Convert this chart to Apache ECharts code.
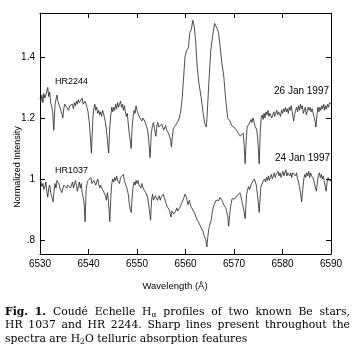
<!DOCTYPE html>
<html><head><meta charset="utf-8">
<script src="https://cdn.jsdelivr.net/npm/echarts@6/dist/echarts.min.js"></script>
<style>html,body{margin:0;padding:0;background:#fff}#c{width:354px;height:353px}</style>
</head><body><div id="c"></div>
<script>
// ---- data (wavelength Å, normalized intensity) ----
const hr2244 = [[6530.0,1.265],[6530.2,1.255],[6530.4,1.275],[6530.6,1.25],[6530.8,1.28],[6531.0,1.265],[6531.2,1.27],[6531.4,1.285],[6531.6,1.30],[6531.8,1.27],[6532.0,1.285],[6532.2,1.25],[6532.4,1.24],[6532.6,1.22],[6532.85,1.16],[6533.1,1.245],[6533.3,1.26],[6533.5,1.275],[6533.7,1.255],[6533.9,1.245],[6534.1,1.235],[6534.3,1.23],[6534.5,1.215],[6534.7,1.20],[6534.9,1.23],[6535.1,1.245],[6535.3,1.25],[6535.5,1.235],[6535.7,1.24],[6535.9,1.225],[6536.1,1.24],[6536.3,1.245],[6536.5,1.235],[6536.7,1.245],[6536.9,1.23],[6537.1,1.25],[6537.3,1.24],[6537.5,1.255],[6537.7,1.245],[6537.9,1.26],[6538.1,1.25],[6538.3,1.255],[6538.5,1.245],[6538.7,1.265],[6538.9,1.245],[6539.1,1.24],[6539.3,1.255],[6539.5,1.25],[6539.7,1.235],[6539.9,1.22],[6540.2,1.18],[6540.6,1.085],[6540.9,1.20],[6541.1,1.23],[6541.3,1.245],[6541.5,1.225],[6541.7,1.235],[6541.9,1.215],[6542.1,1.225],[6542.3,1.21],[6542.5,1.22],[6542.7,1.205],[6542.9,1.225],[6543.1,1.215],[6543.3,1.20],[6543.5,1.185],[6543.7,1.16],[6543.9,1.13],[6544.15,1.085],[6544.4,1.17],[6544.6,1.21],[6544.8,1.235],[6545.0,1.22],[6545.2,1.235],[6545.4,1.225],[6545.6,1.245],[6545.8,1.23],[6546.0,1.25],[6546.2,1.235],[6546.4,1.245],[6546.6,1.255],[6546.8,1.235],[6547.0,1.245],[6547.2,1.225],[6547.4,1.24],[6547.6,1.22],[6547.8,1.205],[6548.0,1.215],[6548.2,1.18],[6548.4,1.15],[6548.8,1.10],[6549.0,1.17],[6549.2,1.205],[6549.4,1.225],[6549.6,1.215],[6549.8,1.24],[6550.0,1.225],[6550.2,1.215],[6550.4,1.22],[6550.6,1.20],[6550.8,1.205],[6551.0,1.19],[6551.2,1.20],[6551.4,1.205],[6551.6,1.19],[6551.8,1.18],[6552.0,1.185],[6552.2,1.16],[6552.4,1.13],[6552.7,1.07],[6552.95,1.15],[6553.2,1.175],[6553.4,1.185],[6553.6,1.165],[6553.9,1.14],[6554.1,1.175],[6554.3,1.185],[6554.5,1.17],[6554.7,1.175],[6554.9,1.165],[6555.1,1.18],[6555.3,1.17],[6555.5,1.16],[6555.7,1.165],[6555.9,1.175],[6556.1,1.16],[6556.3,1.165],[6556.5,1.15],[6556.7,1.155],[6556.9,1.13],[6557.1,1.105],[6557.3,1.14],[6557.5,1.165],[6557.7,1.16],[6557.9,1.175],[6558.1,1.17],[6558.3,1.18],[6558.5,1.19],[6558.7,1.20],[6559.0,1.22],[6559.3,1.26],[6559.6,1.33],[6559.9,1.40],[6560.2,1.42],[6560.4,1.415],[6560.6,1.43],[6560.9,1.48],[6561.2,1.49],[6561.5,1.52],[6561.8,1.50],[6562.1,1.45],[6562.4,1.37],[6562.8,1.31],[6563.2,1.27],[6563.6,1.22],[6564.0,1.18],[6564.3,1.17],[6564.5,1.22],[6564.8,1.31],[6565.2,1.42],[6565.6,1.47],[6566.0,1.51],[6566.3,1.50],[6566.6,1.49],[6566.8,1.48],[6567.1,1.44],[6567.5,1.38],[6567.9,1.335],[6568.3,1.26],[6568.7,1.20],[6569.0,1.195],[6569.2,1.19],[6569.5,1.175],[6569.7,1.18],[6570.0,1.17],[6570.3,1.17],[6570.5,1.16],[6570.7,1.165],[6570.9,1.15],[6571.1,1.155],[6571.3,1.14],[6571.5,1.145],[6571.7,1.135],[6571.9,1.15],[6572.1,1.11],[6572.3,1.05],[6572.5,1.12],[6572.7,1.17],[6572.9,1.165],[6573.1,1.18],[6573.3,1.175],[6573.5,1.195],[6573.7,1.185],[6573.9,1.20],[6574.1,1.19],[6574.3,1.175],[6574.5,1.18],[6574.7,1.16],[6574.9,1.13],[6575.2,1.05],[6575.4,1.15],[6575.6,1.20],[6575.8,1.21],[6576.0,1.195],[6576.2,1.215],[6576.4,1.20],[6576.6,1.22],[6576.8,1.21],[6577.0,1.225],[6577.2,1.205],[6577.4,1.215],[6577.6,1.22],[6577.8,1.20],[6578.0,1.21],[6578.2,1.22],[6578.4,1.205],[6578.6,1.215],[6578.8,1.225],[6579.0,1.21],[6579.2,1.22],[6579.4,1.215],[6579.6,1.205],[6579.8,1.225],[6580.0,1.215],[6580.2,1.23],[6580.4,1.22],[6580.6,1.235],[6580.8,1.22],[6581.0,1.23],[6581.2,1.215],[6581.4,1.235],[6581.6,1.225],[6581.8,1.24],[6582.0,1.22],[6582.3,1.19],[6582.5,1.21],[6582.7,1.225],[6582.9,1.235],[6583.1,1.22],[6583.3,1.24],[6583.5,1.225],[6583.7,1.245],[6583.9,1.23],[6584.1,1.24],[6584.3,1.215],[6584.5,1.225],[6584.7,1.235],[6584.9,1.21],[6585.1,1.22],[6585.3,1.235],[6585.5,1.225],[6585.7,1.235],[6585.9,1.22],[6586.1,1.23],[6586.4,1.21],[6586.7,1.19],[6586.9,1.17],[6587.1,1.21],[6587.3,1.235],[6587.5,1.22],[6587.7,1.235],[6587.9,1.225],[6588.1,1.24],[6588.3,1.23],[6588.5,1.245],[6588.7,1.225],[6588.9,1.24],[6589.1,1.23],[6589.3,1.245],[6589.5,1.235],[6589.7,1.25],[6590.0,1.245]];

const hr1037 = [[6530.0,1.0],[6530.2,0.99],[6530.4,0.975],[6530.6,0.985],[6530.8,0.965],[6531.0,0.975],[6531.2,0.99],[6531.4,0.96],[6531.6,0.94],[6531.8,0.97],[6532.0,0.98],[6532.2,0.955],[6532.45,0.94],[6532.7,0.925],[6532.9,0.96],[6533.1,0.985],[6533.3,0.97],[6533.5,0.995],[6533.7,1.0],[6533.9,0.985],[6534.1,0.97],[6534.3,0.975],[6534.5,0.955],[6534.7,0.96],[6534.9,0.98],[6535.1,0.975],[6535.3,0.985],[6535.5,0.97],[6535.7,0.98],[6535.9,0.975],[6536.1,0.985],[6536.3,0.97],[6536.5,0.98],[6536.7,0.99],[6536.9,0.97],[6537.1,0.975],[6537.3,0.995],[6537.5,0.98],[6537.7,0.96],[6537.9,0.975],[6538.1,0.99],[6538.3,0.97],[6538.5,0.985],[6538.7,0.955],[6538.9,0.94],[6539.1,0.92],[6539.3,0.86],[6539.5,0.96],[6539.7,0.985],[6539.9,0.995],[6540.1,1.0],[6540.3,0.99],[6540.5,1.005],[6540.7,0.985],[6540.9,0.98],[6541.1,0.995],[6541.3,0.99],[6541.5,0.98],[6541.7,0.99],[6541.9,1.0],[6542.1,0.985],[6542.3,0.97],[6542.5,0.98],[6542.7,0.985],[6542.9,0.965],[6543.1,0.96],[6543.3,0.97],[6543.5,0.945],[6543.7,0.93],[6543.9,0.955],[6544.1,0.93],[6544.4,0.86],[6544.6,0.94],[6544.8,0.985],[6545.0,1.0],[6545.2,0.99],[6545.4,1.005],[6545.6,0.995],[6545.8,1.01],[6546.0,0.995],[6546.2,1.0],[6546.4,0.985],[6546.6,1.005],[6546.8,1.01],[6547.0,1.0],[6547.2,1.015],[6547.4,0.995],[6547.6,0.985],[6547.8,0.99],[6548.0,0.965],[6548.2,0.95],[6548.4,0.92],[6548.6,0.90],[6548.8,0.89],[6549.0,0.94],[6549.2,0.975],[6549.4,0.99],[6549.6,0.98],[6549.8,0.995],[6550.0,0.985],[6550.2,0.995],[6550.4,0.98],[6550.6,0.985],[6550.8,0.97],[6551.0,0.985],[6551.2,0.975],[6551.4,0.965],[6551.6,0.97],[6551.8,0.955],[6552.0,0.96],[6552.2,0.94],[6552.45,0.91],[6552.8,0.865],[6553.0,0.93],[6553.2,0.95],[6553.4,0.93],[6553.6,0.925],[6553.8,0.945],[6554.0,0.95],[6554.2,0.93],[6554.4,0.935],[6554.6,0.945],[6554.8,0.93],[6555.0,0.94],[6555.2,0.935],[6555.4,0.95],[6555.6,0.94],[6555.8,0.93],[6556.0,0.92],[6556.2,0.91],[6556.4,0.915],[6556.6,0.90],[6556.8,0.89],[6557.0,0.875],[6557.2,0.895],[6557.4,0.90],[6557.6,0.885],[6557.8,0.88],[6558.0,0.895],[6558.2,0.905],[6558.4,0.895],[6558.6,0.89],[6558.8,0.905],[6559.0,0.91],[6559.2,0.92],[6559.4,0.925],[6559.7,0.94],[6559.9,0.95],[6560.2,0.94],[6560.5,0.915],[6560.8,0.93],[6561.1,0.91],[6561.3,0.915],[6561.5,0.905],[6561.8,0.89],[6562.0,0.885],[6562.2,0.875],[6562.4,0.865],[6562.6,0.86],[6562.8,0.855],[6563.0,0.85],[6563.2,0.84],[6563.4,0.835],[6563.6,0.83],[6563.8,0.815],[6564.0,0.82],[6564.2,0.80],[6564.4,0.777],[6564.6,0.81],[6564.8,0.835],[6565.0,0.85],[6565.3,0.866],[6565.5,0.89],[6565.7,0.905],[6565.9,0.915],[6566.1,0.92],[6566.3,0.93],[6566.5,0.935],[6566.7,0.925],[6566.9,0.93],[6567.1,0.94],[6567.3,0.935],[6567.5,0.93],[6567.7,0.925],[6567.9,0.915],[6568.1,0.91],[6568.3,0.905],[6568.5,0.90],[6568.7,0.88],[6568.9,0.845],[6569.1,0.88],[6569.3,0.91],[6569.6,0.935],[6569.8,0.93],[6570.0,0.94],[6570.2,0.935],[6570.4,0.93],[6570.6,0.945],[6570.8,0.95],[6571.0,0.945],[6571.2,0.955],[6571.4,0.945],[6571.6,0.93],[6571.8,0.915],[6572.0,0.90],[6572.3,0.87],[6572.6,0.95],[6572.8,0.965],[6573.0,0.975],[6573.2,0.965],[6573.4,0.97],[6573.6,0.985],[6573.8,0.99],[6574.0,0.98],[6574.2,1.0],[6574.4,0.99],[6574.6,0.98],[6574.9,0.94],[6575.2,0.89],[6575.5,0.97],[6575.7,0.98],[6575.9,0.99],[6576.1,0.985],[6576.3,1.0],[6576.5,0.99],[6576.7,1.005],[6576.9,0.995],[6577.1,1.01],[6577.3,0.995],[6577.5,1.005],[6577.7,1.015],[6577.9,1.0],[6578.1,1.01],[6578.3,1.02],[6578.5,1.005],[6578.7,1.015],[6578.9,1.01],[6579.1,1.025],[6579.3,1.01],[6579.5,1.02],[6579.7,1.005],[6579.9,1.015],[6580.1,1.025],[6580.3,1.01],[6580.5,1.02],[6580.7,1.03],[6580.9,1.01],[6581.1,1.02],[6581.3,1.025],[6581.5,1.01],[6581.7,1.02],[6581.9,1.005],[6582.1,1.02],[6582.3,1.015],[6582.5,1.025],[6582.7,1.01],[6582.9,1.02],[6583.1,1.0],[6583.3,0.99],[6583.5,0.975],[6583.7,0.955],[6583.95,0.925],[6584.2,0.97],[6584.4,1.0],[6584.6,1.015],[6584.8,1.005],[6585.0,1.02],[6585.2,1.01],[6585.4,1.025],[6585.6,1.005],[6585.8,1.02],[6586.0,1.01],[6586.2,1.015],[6586.4,1.0],[6586.6,0.985],[6586.8,0.97],[6587.0,0.96],[6587.2,0.99],[6587.4,1.01],[6587.6,1.02],[6587.8,1.005],[6588.0,1.015],[6588.2,1.0],[6588.4,1.01],[6588.6,0.995],[6588.8,0.975],[6589.0,0.96],[6589.2,0.99],[6589.4,1.005],[6589.6,0.995],[6589.8,1.0],[6590.0,0.995]];

const xTicks = [6530, 6540, 6550, 6560, 6570, 6580, 6590];
const yTicks = [0.8, 1.0, 1.2, 1.4];
const yMin = 0.754, yMax = 1.544;

// ---- chart ----
const chart = echarts.init(document.getElementById('c'), null, {renderer: 'canvas'});
const LBL = '"Liberation Sans", Arial, sans-serif';
const lineColor = '#000';
const yFmt = v => { const s = String(Math.round(v * 10) / 10); return s.startsWith('0') ? s.slice(1) : s; };

function xAx(pos, showLabel) {
  return {
    type: 'value', position: pos, min: xTicks[0], max: xTicks[xTicks.length - 1], interval: 10,
    axisLine: {show: true, lineStyle: {color: lineColor, width: 1}},
    axisTick: {show: true, inside: true, length: 5, lineStyle: {color: lineColor}},
    axisLabel: {show: showLabel, formatter: v => String(v), color: '#000', fontFamily: LBL, fontSize: 10, margin: 5},
    splitLine: {show: false}
  };
}
function yAx(pos, showLabel) {
  return {
    type: 'value', position: pos, min: yMin, max: yMax,
    axisLine: {show: true, lineStyle: {color: lineColor, width: 1}},
    axisTick: {show: true, inside: true, length: 5, customValues: yTicks, lineStyle: {color: lineColor}},
    axisLabel: {show: showLabel, customValues: yTicks, formatter: yFmt, color: '#000', fontFamily: LBL, fontSize: 10, margin: 5},
    splitLine: {show: false}
  };
}

// caption with justified lines
const capFont = '"DejaVu Serif", "Liberation Serif", serif';
const capLines = [
  {text: '*Fig.* *1.* Coudé Echelle H_α profiles of two known Be stars,', justify: true, y: 312},
  {text: 'HR 1037 and HR 2244. Sharp lines present throughout the', justify: true, y: 325.5},
  {text: 'spectra are H_2O telluric absorption features', justify: false, y: 339}
];
const capLeft = 5, capRight = 350, capFs = 10.8;
const mctx = document.createElement('canvas').getContext('2d');
function fontStr(bold, size) { return (bold ? 'bold ' : '') + size + 'px ' + capFont; }
function parseWord(w) {
  let bold = false;
  if (w.startsWith('*') && w.endsWith('*')) { bold = true; w = w.slice(1, -1); }
  const segs = []; let cur = '';
  for (let i = 0; i < w.length; i++) {
    if (w[i] === '_') { if (cur) segs.push({t: cur, sub: false}); cur = ''; segs.push({t: w[i + 1], sub: true}); i++; }
    else cur += w[i];
  }
  if (cur) segs.push({t: cur, sub: false});
  segs.forEach(s => { s.font = fontStr(bold, s.sub ? capFs * 0.7 : capFs); mctx.font = s.font; s.w = mctx.measureText(s.t).width; });
  return {segs, w: segs.reduce((a, s) => a + s.w, 0)};
}
const graphics = [];
capLines.forEach(line => {
  const words = line.text.split(' ').map(parseWord);
  const total = words.reduce((a, w) => a + w.w, 0);
  mctx.font = fontStr(false, capFs);
  const sp = mctx.measureText(' ').width;
  const gap = line.justify ? (capRight - capLeft - total) / (words.length - 1) : sp;
  let x = capLeft;
  words.forEach(w => {
    w.segs.forEach(s => {
      graphics.push({type: 'text', x: x, y: line.y + (s.sub ? capFs * 0.3 : 0), silent: true,
        style: {text: s.t, font: s.font, fill: '#000', textAlign: 'left', textVerticalAlign: 'middle', align: 'left', verticalAlign: 'middle'}});
      x += s.w;
    });
    x += gap;
  });
});

function label(text, x, y, size) {
  return {type: 'text', x: x, y: y, silent: true,
    style: {text: text, font: size + 'px ' + LBL, fill: '#000', textAlign: 'left', textVerticalAlign: 'middle', align: 'left', verticalAlign: 'middle'}};
}
graphics.push(label('HR2244', 55, 82, 9));
graphics.push(label('HR1037', 55, 171, 9));
graphics.push(label('26 Jan 1997', 274, 91, 10));
graphics.push(label('24 Jan 1997', 275, 158, 10));
graphics.push({type: 'text', x: 175, y: 286, silent: true,
  style: {text: 'Wavelength (Å)', font: '9.5px ' + LBL, fill: '#000', textAlign: 'center', textVerticalAlign: 'middle', align: 'center', verticalAlign: 'middle'}});
graphics.push({type: 'text', x: 18, y: 167, rotation: Math.PI / 2, silent: true,
  style: {text: 'Normalized Intensity', font: '9px ' + LBL, fill: '#000', textAlign: 'center', textVerticalAlign: 'middle', align: 'center', verticalAlign: 'middle'}});

chart.setOption({
  animation: false,
  backgroundColor: '#fff',
  grid: {left: 40, right: 23, top: 13, bottom: 99, containLabel: false},
  xAxis: [xAx('bottom', true), xAx('top', false)],
  yAxis: [yAx('left', true), yAx('right', false)],
  series: [
    {name: 'HR2244', type: 'line', data: hr2244, smooth: false, showSymbol: false, symbol: 'none', lineStyle: {color: '#222', width: 0.8}, xAxisIndex: 0, yAxisIndex: 0},
    {name: 'HR1037', type: 'line', data: hr1037, smooth: false, showSymbol: false, symbol: 'none', lineStyle: {color: '#222', width: 0.8}, xAxisIndex: 0, yAxisIndex: 0}
  ],
  graphic: graphics
});
</script>
</body></html>
